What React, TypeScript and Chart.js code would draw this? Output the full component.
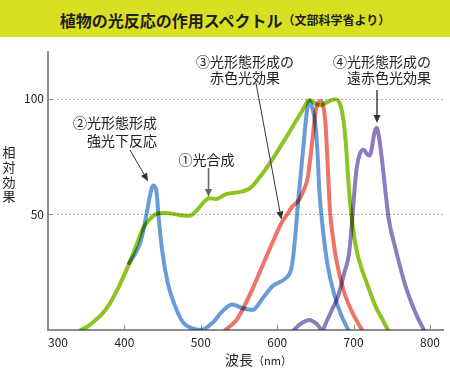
import { useEffect, useRef } from 'react';
import { Chart, registerables } from 'chart.js';

Chart.register(...registerables);

// ---- data ----
const xTickValues = [300, 400, 500, 600, 700, 800];
const yTickValues = [50, 100];
const gridValues = [50, 100];

// ① photosynthesis (green)
const photosynthesisNm = [343, 352, 363, 371, 381, 393, 406, 415, 423, 432, 445, 455, 472, 485, 494, 503, 511, 520, 533, 555, 565, 572, 590, 611, 633, 642, 650, 657, 665, 676, 683, 687, 690, 693, 697, 703, 710, 716, 729, 737, 745];
const photosynthesisVal = [0, 1.5, 4.5, 7, 11.5, 19, 28.5, 36, 43, 47.5, 50.5, 50.6, 49.8, 49.4, 51.5, 55, 57, 56.7, 58.8, 60, 61.5, 64, 72, 83, 95, 99.5, 98, 97.2, 98.5, 99.8, 97, 90, 80, 65, 50, 36, 27, 21.5, 10, 5, 0];

// ② strong-light reaction (blue)
const strongLightNm = [406, 415, 421, 426, 430, 435, 437.5, 440, 442, 445, 450, 457, 465, 476, 489, 500, 515, 528, 541, 555, 568, 581, 594, 611, 618, 621, 624, 627, 631, 635, 639, 642.5, 646, 650, 653, 655, 659, 666, 675, 683, 693];
const strongLightVal = [29, 33.5, 38, 45, 52, 60.5, 62.5, 62, 60, 48, 33, 20, 11.5, 3.6, 0.7, 0, 3, 8, 11, 9.4, 8.7, 13.7, 19, 22.4, 26, 32, 42, 54, 68, 82, 95, 99, 96, 89, 75, 61, 46, 28, 15, 7, 0];

// ③ red-light effect (red)
const redEffectNm = [532, 546, 555, 568, 581, 594, 605, 613, 620, 629, 634, 640, 646, 650.5, 657, 663, 666, 669, 673, 677, 687, 700, 711];
const redEffectVal = [0, 4, 9, 18, 28, 38, 46, 50, 53.5, 56.5, 60, 66, 82, 95, 99, 90, 72, 52, 40, 31, 17, 6.5, 0];

// ④ far-red effect (purple)
const farRedNm = [622, 630, 642, 652, 659, 665, 672, 680, 688, 694, 698, 701, 704, 708, 713, 718, 721, 724, 727, 730, 733, 737, 741, 746, 755, 768, 781, 792];
const farRedVal = [0, 2.5, 4.3, 2.5, 0, 4, 9, 15, 25, 33, 47, 60, 70, 76, 78, 76, 75.5, 79, 85, 87.5, 84, 74, 62, 48, 35, 19, 7.5, 0];

const FONT = '"Noto Sans CJK JP", "Noto Sans", sans-serif';
const GREEN = 'rgb(140,196,34)';
const BLUE = 'rgb(104,156,216)';
const RED = 'rgb(238,116,104)';
const PURPLE = 'rgb(140,124,190)';
const AXIS = '#8c8c8c';

const pts = (xs: number[], ys: number[]) => xs.map((x, i) => ({ x, y: ys[i] }));

const annotationLines = [
  { text: '②光形態形成', nm: 442.7, v: 89.6, align: 'right' },
  { text: '強光下反応', nm: 442.7, v: 81.8, align: 'right' },
  { text: '①光合成', nm: 507.5, v: 73.6, align: 'center' },
  { text: '③光形態形成の', nm: 557.8, v: 116, align: 'center' },
  { text: '赤色光効果', nm: 557.8, v: 109, align: 'center' },
  { text: '④光形態形成の', nm: 801.3, v: 116, align: 'right' },
  { text: '遠赤色光効果', nm: 801.3, v: 109, align: 'right' },
];

const arrows = [
  { from: [407.3, 77.9], to: [430.9, 64.4], color: '#333', width: 1 },
  { from: [510.1, 70.1], to: [510.1, 57.6], color: '#666', width: 1.6 },
  { from: [572.2, 106.9], to: [605.5, 47.8], color: '#333', width: 1 },
  { from: [730.6, 103.9], to: [730.6, 89.6], color: '#333', width: 1.4 },
];

function drawArrow(ctx: CanvasRenderingContext2D, x1: number, y1: number, x2: number, y2: number, color: string, width: number) {
  ctx.save();
  ctx.strokeStyle = color;
  ctx.fillStyle = color;
  ctx.lineWidth = width;
  const ang = Math.atan2(y2 - y1, x2 - x1);
  const hl = 8, hw = 3.5;
  const bx = x2 - hl * Math.cos(ang), by = y2 - hl * Math.sin(ang);
  ctx.beginPath();
  ctx.moveTo(x1, y1);
  ctx.lineTo(bx, by);
  ctx.stroke();
  ctx.beginPath();
  ctx.moveTo(x2, y2);
  ctx.lineTo(bx + hw * Math.sin(ang), by - hw * Math.cos(ang));
  ctx.lineTo(bx - hw * Math.sin(ang), by + hw * Math.cos(ang));
  ctx.closePath();
  ctx.fill();
  ctx.restore();
}

const overlayPlugin = {
  id: 'overlay',
  beforeDatasetsDraw(chart: any) {
    const { ctx, chartArea } = chart;
    const x = chart.scales.x, y = chart.scales.y;
    ctx.save();
    ctx.strokeStyle = '#b4b4b4';
    ctx.lineWidth = 1;
    ctx.setLineDash([2, 2]);
    for (const v of gridValues) {
      const py = Math.round(y.getPixelForValue(v)) + 0.5;
      ctx.beginPath();
      ctx.moveTo(chartArea.left + 9, py);
      ctx.lineTo(chartArea.right + 2, py);
      ctx.stroke();
    }
    ctx.setLineDash([]);
    ctx.strokeStyle = AXIS;
    for (const v of xTickValues) {
      if (v === 300) continue;
      const px = Math.round(x.getPixelForValue(v)) + 0.5;
      ctx.beginPath();
      ctx.moveTo(px, chartArea.bottom);
      ctx.lineTo(px, chartArea.bottom - 5);
      ctx.stroke();
    }
    for (const v of yTickValues) {
      const py = Math.round(y.getPixelForValue(v)) + 0.5;
      ctx.beginPath();
      ctx.moveTo(chartArea.left, py);
      ctx.lineTo(chartArea.left + 5, py);
      ctx.stroke();
    }
    ctx.restore();
    ctx.save();
    ctx.globalCompositeOperation = 'multiply';
  },
  afterDatasetsDraw(chart: any) {
    chart.ctx.restore();
  },
  afterDraw(chart: any) {
    const { ctx } = chart;
    const x = chart.scales.x, y = chart.scales.y;
    ctx.save();
    ctx.fillStyle = '#222';
    ctx.textBaseline = 'middle';
    ctx.font = `14px ${FONT}`;
    for (const a of annotationLines) {
      ctx.textAlign = a.align as CanvasTextAlign;
      ctx.fillText(a.text, x.getPixelForValue(a.nm), y.getPixelForValue(a.v));
    }
    for (const a of arrows) {
      drawArrow(ctx, x.getPixelForValue(a.from[0]), y.getPixelForValue(a.from[1]), x.getPixelForValue(a.to[0]), y.getPixelForValue(a.to[1]), a.color, a.width);
    }
    // y-axis title (vertical stacked)
    ctx.fillStyle = '#222';
    ctx.textAlign = 'center';
    ctx.font = `13px ${FONT}`;
    const yTitle = ['相', '対', '効', '果'];
    yTitle.forEach((c, i) => ctx.fillText(c, 9, 152 + i * 14.8));
    // x-axis title
    ctx.textAlign = 'left';
    ctx.font = `14px ${FONT}`;
    const w1 = ctx.measureText('波長').width;
    ctx.fillText('波長', 225, 360);
    ctx.font = `11px ${FONT}`;
    ctx.fillText('（nm）', 225 + w1, 361);
    ctx.restore();
  },
};

export default function App() {
  const ref = useRef<HTMLCanvasElement>(null);
  useEffect(() => {
    const lineDs = (label: string, data: any[], color: string) => ({
      label,
      data,
      borderColor: color,
      backgroundColor: color,
      borderWidth: 4,
      pointRadius: 0,
      fill: false,
      cubicInterpolationMode: 'monotone' as const,
      borderCapStyle: 'round' as const,
      borderJoinStyle: 'round' as const,
    });
    const chart = new Chart(ref.current!, {
      type: 'line',
      data: {
        datasets: [
          lineDs('①光合成', pts(photosynthesisNm, photosynthesisVal), GREEN),
          lineDs('②光形態形成 強光下反応', pts(strongLightNm, strongLightVal), BLUE),
          lineDs('③光形態形成の赤色光効果', pts(redEffectNm, redEffectVal), RED),
          lineDs('④光形態形成の遠赤色光効果', pts(farRedNm, farRedVal), PURPLE),
        ],
      },
      options: {
        animation: false,
        responsive: false,
        devicePixelRatio: 1,
        events: [],
        layout: { padding: { top: 52, right: 7, left: 0, bottom: 0 } },
        plugins: { legend: { display: false }, tooltip: { enabled: false }, title: { display: false } },
        scales: {
          x: {
            type: 'linear',
            min: 300,
            max: 817,
            afterBuildTicks: (s: any) => {
              s.ticks = [...xTickValues, 817].map((v) => ({ value: v }));
            },
            afterFit: (s: any) => {
              s.height = 38;
            },
            grid: { display: false, drawTicks: false },
            border: { display: true, color: AXIS, width: 2 },
            ticks: {
              autoSkip: false,
              maxRotation: 0,
              align: 'inner',
              padding: 5,
              color: '#222',
              font: { family: FONT, size: 12 },
              callback: (v: any) => (xTickValues.includes(Number(v)) ? String(v) : ''),
            },
          },
          y: {
            type: 'linear',
            min: 0,
            max: 120.3,
            afterBuildTicks: (s: any) => {
              s.ticks = yTickValues.map((v) => ({ value: v }));
            },
            afterFit: (s: any) => {
              s.width = 48;
            },
            grid: { display: false, drawTicks: false },
            border: { display: true, color: AXIS, width: 2 },
            ticks: {
              padding: 4,
              color: '#222',
              font: { family: FONT, size: 12 },
            },
          },
        },
      } as any,
      plugins: [overlayPlugin],
    });
    return () => chart.destroy();
  }, []);

  return (
    <div style={{ position: 'absolute', left: 0, top: 0, width: 450, height: 368, background: '#fff', overflow: 'hidden' }}>
      <canvas ref={ref} width={450} height={368} style={{ position: 'absolute', left: 0, top: 0, width: 450, height: 368 }} />
      <div
        style={{
          position: 'absolute',
          left: 0,
          top: 0,
          width: 450,
          height: 37,
          paddingTop: 2,
          boxSizing: 'border-box',
          background: '#d9e021',
          display: 'flex',
          alignItems: 'center',
          justifyContent: 'center',
          fontFamily: FONT,
          fontWeight: 700,
          color: '#1e1e1e',
          whiteSpace: 'nowrap',
        }}
      >
        <span style={{ fontSize: 16 }}>植物の光反応の作用スペクトル</span>
        <span style={{ fontSize: 12 }}>（文部科学省より）</span>
      </div>
    </div>
  );
}
